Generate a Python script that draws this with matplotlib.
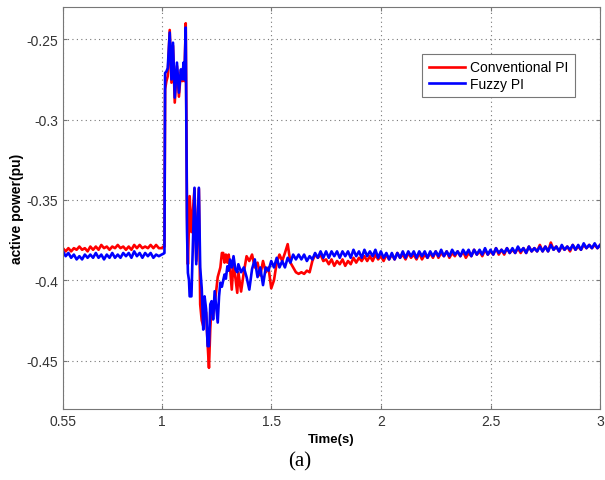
import numpy as np
import matplotlib
matplotlib.use("Agg")
import matplotlib.pyplot as plt

# sample times of the steady parts (step 0.0125 s)
t_pre = np.round(np.arange(0.55, 0.99, 0.0125), 4)
t_post = np.round(np.arange(1.35, 3.0001, 0.0125), 4)

# transient sample times
t_tr = [1.000, 1.008, 1.013, 1.016, 1.022, 1.028, 1.037, 1.045, 1.052, 1.060,
        1.070, 1.079, 1.088, 1.095, 1.100, 1.104, 1.110, 1.116, 1.120, 1.125,
        1.128, 1.136, 1.150, 1.158, 1.170, 1.176, 1.183, 1.190, 1.196, 1.203,
        1.210, 1.216, 1.222, 1.228, 1.235, 1.242, 1.250, 1.256, 1.262, 1.268,
        1.275, 1.281, 1.287, 1.293, 1.300, 1.306, 1.312, 1.320, 1.328, 1.336,
        1.345]

conv_pre = [-0.380, -0.382, -0.380, -0.382, -0.380, -0.381, -0.379, -0.381,
            -0.380, -0.382, -0.379, -0.381, -0.379, -0.381, -0.378, -0.380,
            -0.379, -0.381, -0.379, -0.380, -0.378, -0.380, -0.379, -0.381,
            -0.379, -0.381, -0.378, -0.380, -0.378, -0.380, -0.379, -0.380,
            -0.378, -0.380, -0.378, -0.380]
fuzzy_pre = [-0.382, -0.385, -0.383, -0.386, -0.384, -0.387, -0.385, -0.387,
             -0.384, -0.386, -0.384, -0.386, -0.383, -0.386, -0.384, -0.387,
             -0.384, -0.386, -0.383, -0.386, -0.384, -0.386, -0.383, -0.385,
             -0.383, -0.386, -0.382, -0.385, -0.383, -0.386, -0.383, -0.385,
             -0.383, -0.386, -0.384, -0.385]

conv_tr = [-0.3800, -0.3790, -0.3790, -0.2810, -0.2760, -0.2730, -0.2442, -0.2770, -0.2540, -0.2894,
           -0.2666, -0.2857, -0.2700, -0.2760, -0.2650, -0.2760, -0.2400, -0.3600, -0.3900, -0.3620,
           -0.3476, -0.3700, -0.3430, -0.3880, -0.3430, -0.4150, -0.4250, -0.4285, -0.4180, -0.4200,
           -0.4400, -0.4545, -0.4300, -0.4160, -0.4220, -0.4150, -0.4050, -0.3980, -0.3950, -0.3920,
           -0.3830, -0.3830, -0.3890, -0.3840, -0.3890, -0.3840, -0.3920, -0.4058, -0.3890, -0.3980,
           -0.4078]
fuzzy_tr = [-0.3840, -0.3835, -0.3830, -0.2710, -0.2700, -0.2680, -0.2458, -0.2750, -0.2521, -0.2863,
            -0.2645, -0.2832, -0.2687, -0.2749, -0.2645, -0.2750, -0.2427, -0.3700, -0.3954, -0.4000,
            -0.4100, -0.4100, -0.3424, -0.3900, -0.3424, -0.3920, -0.4050, -0.4307, -0.4100, -0.4180,
            -0.4410, -0.4410, -0.4150, -0.4130, -0.4244, -0.4068, -0.4180, -0.4263, -0.4100, -0.4015,
            -0.4040, -0.4000, -0.3964, -0.3990, -0.3913, -0.3940, -0.3871, -0.3920, -0.3850, -0.3930,
            -0.3950]

conv_post = [-0.395, -0.407, -0.395, -0.385, -0.388, -0.384, -0.392, -0.389,
             -0.397, -0.388, -0.395, -0.392, -0.405, -0.400, -0.389, -0.384,
             -0.388, -0.383, -0.3775, -0.389, -0.392, -0.395, -0.396, -0.395,
             -0.396, -0.394, -0.395, -0.388, -0.384, -0.386, -0.384, -0.388,
             -0.387, -0.390, -0.387, -0.391, -0.388, -0.390, -0.387, -0.391,
             -0.388, -0.390, -0.386, -0.389, -0.386, -0.388, -0.385, -0.388,
             -0.385, -0.388, -0.384, -0.387, -0.385, -0.388, -0.384, -0.387,
             -0.384, -0.387, -0.383, -0.386, -0.384, -0.387, -0.383, -0.386,
             -0.384, -0.387, -0.383, -0.387, -0.384, -0.386, -0.383, -0.386,
             -0.382, -0.386, -0.383, -0.385, -0.382, -0.386, -0.383, -0.385,
             -0.382, -0.385, -0.382, -0.386, -0.383, -0.385, -0.381, -0.384,
             -0.382, -0.385, -0.381, -0.384, -0.382, -0.384, -0.380, -0.384,
             -0.381, -0.384, -0.380, -0.383, -0.381, -0.383, -0.380, -0.383,
             -0.380, -0.383, -0.379, -0.382, -0.380, -0.382, -0.378, -0.382,
             -0.379, -0.382, -0.3765, -0.381, -0.379, -0.382, -0.379, -0.381,
             -0.379, -0.382, -0.378, -0.381, -0.379, -0.381, -0.378, -0.380,
             -0.378, -0.380, -0.378, -0.380, -0.378]
fuzzy_post = [-0.390, -0.395, -0.392, -0.398, -0.4058, -0.393, -0.387, -0.398,
              -0.392, -0.403, -0.392, -0.394, -0.388, -0.392, -0.386, -0.392,
              -0.388, -0.392, -0.386, -0.389, -0.384, -0.387, -0.384, -0.387,
              -0.384, -0.388, -0.385, -0.387, -0.383, -0.386, -0.382, -0.386,
              -0.382, -0.386, -0.382, -0.385, -0.382, -0.386, -0.382, -0.385,
              -0.382, -0.386, -0.381, -0.385, -0.382, -0.386, -0.381, -0.385,
              -0.382, -0.385, -0.381, -0.386, -0.382, -0.386, -0.383, -0.387,
              -0.383, -0.387, -0.383, -0.386, -0.382, -0.386, -0.382, -0.385,
              -0.382, -0.386, -0.382, -0.385, -0.382, -0.386, -0.382, -0.385,
              -0.382, -0.385, -0.381, -0.385, -0.382, -0.385, -0.381, -0.384,
              -0.382, -0.385, -0.381, -0.384, -0.381, -0.385, -0.381, -0.384,
              -0.381, -0.384, -0.380, -0.384, -0.381, -0.384, -0.380, -0.383,
              -0.381, -0.383, -0.380, -0.383, -0.380, -0.383, -0.379, -0.382,
              -0.380, -0.383, -0.379, -0.382, -0.380, -0.382, -0.379, -0.382,
              -0.379, -0.382, -0.378, -0.381, -0.379, -0.382, -0.378, -0.381,
              -0.379, -0.381, -0.378, -0.381, -0.378, -0.381, -0.377, -0.380,
              -0.378, -0.380, -0.377, -0.380, -0.378]

t = np.concatenate([t_pre, t_tr, t_post])
conv = np.concatenate([conv_pre, conv_tr, conv_post])
fuzzy = np.concatenate([fuzzy_pre, fuzzy_tr, fuzzy_post])

plt.rcParams['font.family'] = ['Liberation Sans', 'DejaVu Sans']

fig = plt.figure(figsize=(6.05, 4.81), dpi=100)
ax = fig.add_axes([0.104, 0.148, 0.888, 0.835])

ax.plot(t, conv, color='#ff0000', lw=1.9, label='Conventional PI')
ax.plot(t, fuzzy, color='#0000ff', lw=1.9, label='Fuzzy PI')

ax.set_xlim(0.55, 3)
ax.set_ylim(-0.48, -0.23)
ax.set_xticks([0.55, 1, 1.5, 2, 2.5, 3])
ax.set_xticklabels(['0.55', '1', '1.5', '2', '2.5', '3'])
ax.set_yticks([-0.45, -0.4, -0.35, -0.3, -0.25])
ax.set_yticklabels(['-0.45', '-0.4', '-0.35', '-0.3', '-0.25'])
ax.grid(True, color='#777777', linestyle=(0, (1, 3)), linewidth=0.8)
ax.tick_params(direction='in', length=3, top=True, right=True,
               labelsize=10, labelcolor='#333333', color='#777777')
for s in ax.spines.values():
    s.set_color('#777777')

ax.set_xlabel('Time(s)', fontsize=9.5, fontweight='bold', labelpad=4)
ax.set_ylabel('active power(pu)', fontsize=10, fontweight='bold', labelpad=2)

leg = ax.legend(loc='upper right', bbox_to_anchor=(0.953, 0.883), fontsize=10,
                fancybox=False, framealpha=1, edgecolor='#777777',
                borderaxespad=0, handlelength=2.6, handletextpad=0.4,
                borderpad=0.45, labelspacing=0.2)
leg.get_frame().set_linewidth(0.8)

fig.text(0.496, 0.04, '(a)', family='Liberation Serif', fontsize=15,
         ha='center', va='center')

fig.savefig('out.png', dpi=100)
